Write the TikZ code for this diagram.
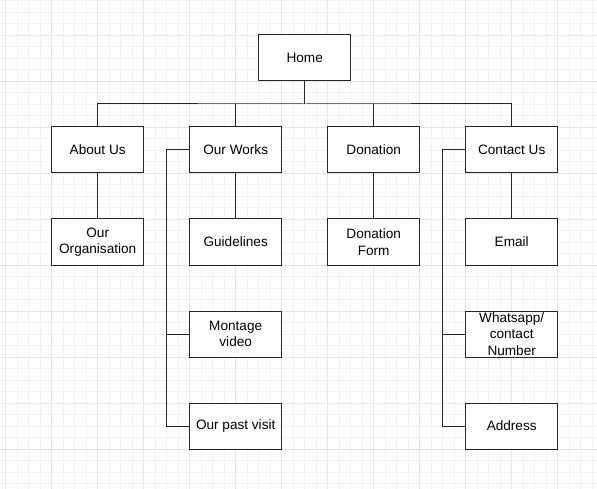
\documentclass[tikz,border=0pt]{standalone}
\usepackage{fontspec}
\setmainfont{Liberation Sans}
\begin{document}
\begin{tikzpicture}[x=1pt,y=-1pt,
  box/.style={draw=black!85,line width=1pt,fill=white,minimum width=92pt,minimum height=46pt,inner sep=0pt,align=center,font=\fontsize{13.6}{16.5}\selectfont},
  conn/.style={draw=black!85,line width=1pt},
  minorg/.style={draw=black!5,line width=0.8pt},
  majorg/.style={draw=black!10,line width=0.9pt}]
\useasboundingbox (0,0) rectangle (597,489);
\fill[white] (0,0) rectangle (597,489);
% grid
\foreach \i in {0,...,52} {\pgfmathsetmacro\xx{-5.8+11.5*\i}\draw[minorg] (\xx,0) -- (\xx,489);}
\foreach \i in {0,...,42} {\pgfmathsetmacro\yy{0.5+11.5*\i}\draw[minorg] (0,\yy) -- (597,\yy);}
\foreach \i in {0,...,12} {\pgfmathsetmacro\xx{5.7+46*\i}\draw[majorg] (\xx,0) -- (\xx,489);}
\foreach \i in {0,...,10} {\pgfmathsetmacro\yy{-11+46*\i}\draw[majorg] (0,\yy) -- (597,\yy);}
% nodes
\node[box] (home) at (304.7,58) {Home};
\node[box] (about) at (97.7,150) {About Us};
\node[box] (works) at (235.7,150) {Our Works};
\node[box] (don) at (373.7,150) {Donation};
\node[box] (contact) at (511.7,150) {Contact Us};
\node[box] (org) at (97.7,242) {Our\\Organisation};
\node[box] (guide) at (235.7,242) {Guidelines};
\node[box] (donform) at (373.7,242) {Donation\\Form};
\node[box] (email) at (511.7,242) {Email};
\node[box] (montage) at (235.7,334) {Montage\\video};
\node[box] (whats) at (511.7,334) {Whatsapp/\\contact\\Number};
\node[box] (past) at (235.7,426) {Our past visit};
\node[box] (addr) at (511.7,426) {Address};
% connectors
\coordinate (bus) at (304.7,104);
\draw[conn] (home.south) -- (bus);
\draw[conn] (about.north) |- (bus) -| (contact.north);
\draw[conn] (works.north) -- (works.north |- bus);
\draw[conn] (don.north) -- (don.north |- bus);
\draw[conn] (about) -- (org);
\draw[conn] (works) -- (guide);
\draw[conn] (don) -- (donform);
\draw[conn] (contact) -- (email);
\coordinate (wl) at (166.7,150);
\draw[conn] (works.west) -- (wl) |- (past.west);
\draw[conn] (wl |- montage.west) -- (montage.west);
\coordinate (cl) at (442.7,150);
\draw[conn] (contact.west) -- (cl) |- (addr.west);
\draw[conn] (cl |- whats.west) -- (whats.west);
\end{tikzpicture}
\end{document}
